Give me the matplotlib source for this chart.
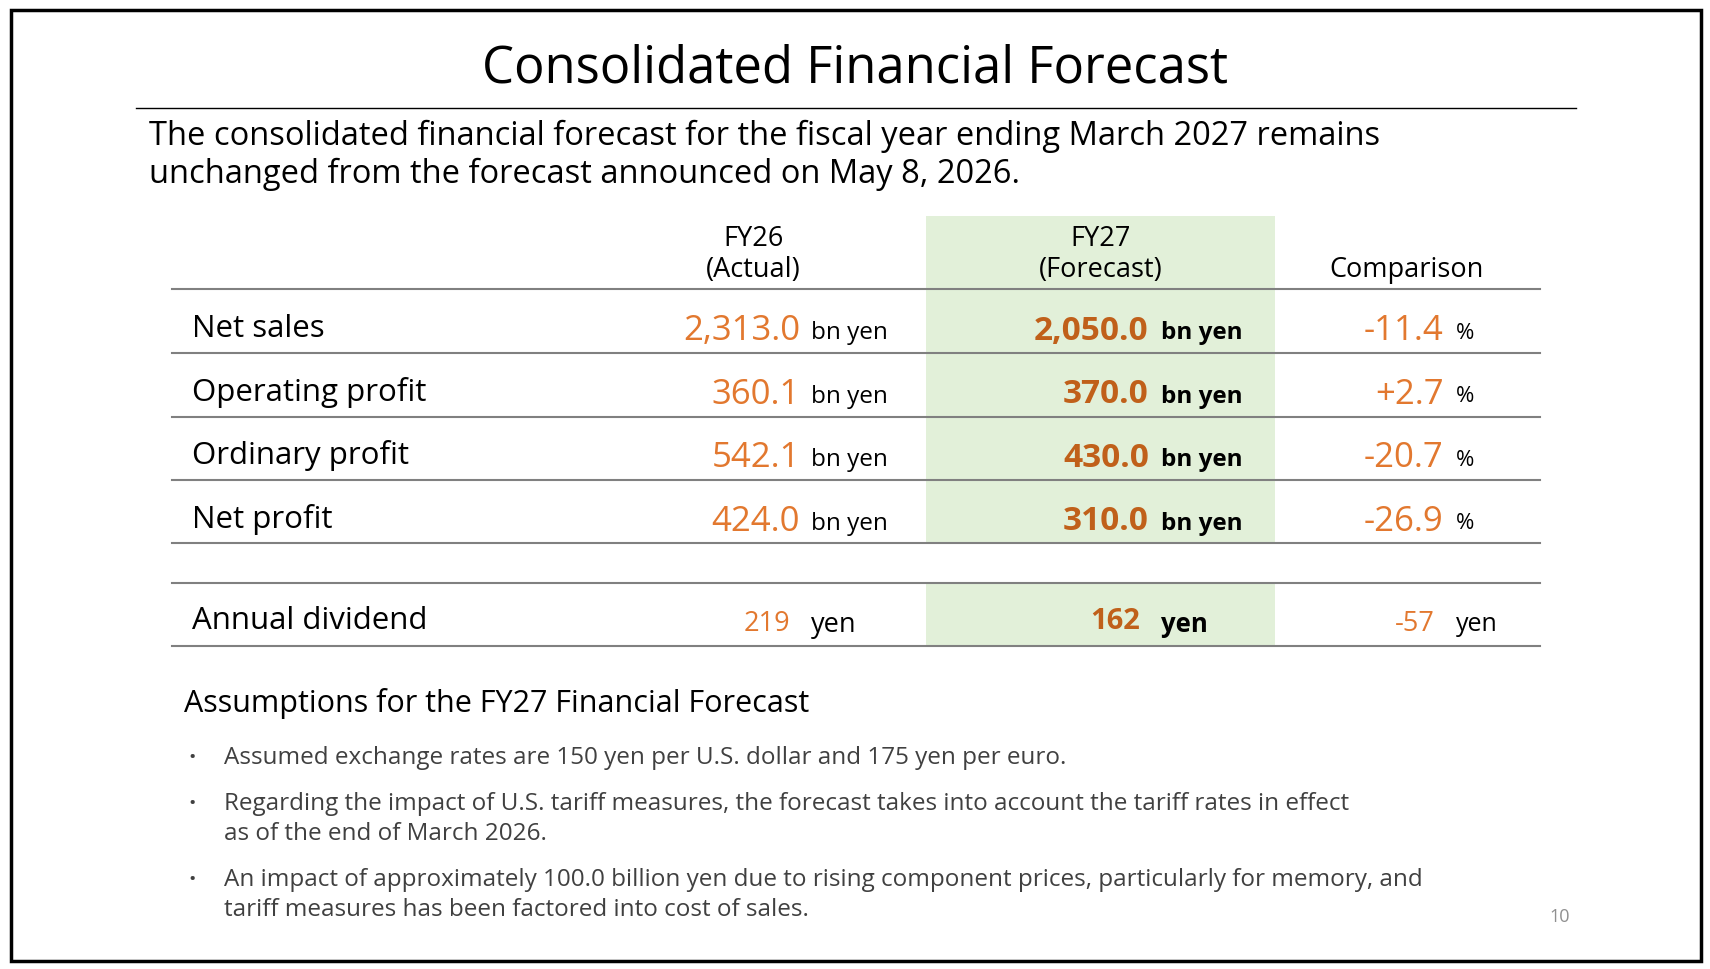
import matplotlib
matplotlib.use("Agg")
import matplotlib.pyplot as plt
from matplotlib.patches import Rectangle
from matplotlib.lines import Line2D

plt.rcParams['font.family'] = ['Open Sans', 'DejaVu Sans']

title = "Consolidated Financial Forecast"
subtitle = ["The consolidated financial forecast for the fiscal year ending March 2027 remains",
            "unchanged from the forecast announced on May 8, 2026."]
rows = ["Net sales", "Operating profit", "Ordinary profit", "Net profit"]
fy26 = ["2,313.0", "360.1", "542.1", "424.0"]
fy27 = ["2,050.0", "370.0", "430.0", "310.0"]
comp = ["-11.4", "+2.7", "-20.7", "-26.9"]
div_label = "Annual dividend"
div_vals = ["219", "162", "-57"]
assump_head = "Assumptions for the FY27 Financial Forecast"
bullets = [["Assumed exchange rates are 150 yen per U.S. dollar and 175 yen per euro."],
           ["Regarding the impact of U.S. tariff measures, the forecast takes into account the tariff rates in effect",
            "as of the end of March 2026."],
           ["An impact of approximately 100.0 billion yen due to rising component prices, particularly for memory, and",
            "tariff measures has been factored into cost of sales."]]

W, H = 1560.0, 885.0
fig = plt.figure(figsize=(17.1, 9.7), dpi=100)
ax = fig.add_axes([0, 0, 1, 1])
ax.set_xlim(0, W); ax.set_ylim(H, 0); ax.axis('off')

ORANGE = '#E2782F'
DARK = '#C0601A'
GREEN = '#E2F0D9'
LINE = '#808080'

def T(x, y, s, **kw):
    kw.setdefault('va', 'center')
    ax.text(x, y, s, **kw)

ax.add_patch(Rectangle((10, 10), 1542, 868, fill=False, lw=2.5, ec='black'))
T(780, 63, title, ha='center', fontsize=36.5)
ax.add_line(Line2D([124, 1438], [99, 99], color='black', lw=1))
for i, s in enumerate(subtitle):
    T(136, 124 + 35 * i, s, fontsize=23.5)

ax.add_patch(Rectangle((845, 198), 318, 297, fc=GREEN, ec='none'))
ax.add_patch(Rectangle((845, 533), 318, 57, fc=GREEN, ec='none'))
for y in [265, 323, 381, 439, 496, 533, 590]:
    ax.add_line(Line2D([157, 1405], [y, y], color=LINE, lw=1.5))

T(687, 218, "FY26", ha='center', fontsize=19.5)
T(687, 246, "(Actual)", ha='center', fontsize=19.5)
T(1004, 218, "FY27", ha='center', fontsize=19.5)
T(1004, 246, "(Forecast)", ha='center', fontsize=19.5)
T(1283, 246, "Comparison", ha='center', fontsize=19.5)

for i, r in enumerate(rows):
    y = 300 + 58 * i
    T(175, y, r, fontsize=22.5)
    T(730, y + 2, fy26[i], ha='right', fontsize=25, color=ORANGE)
    T(740, y + 4, "bn yen", fontsize=17.5)
    T(1048, y + 2, fy27[i], ha='right', fontsize=24, color=DARK, fontweight='bold')
    T(1059, y + 4, "bn yen", fontsize=17.5, fontweight='bold')
    T(1317, y + 2, comp[i], ha='right', fontsize=25, color=ORANGE)
    T(1328, y + 4, "%", fontsize=16)

y = 567
T(175, y, div_label, fontsize=22.5)
T(721, y + 2, div_vals[0], ha='right', fontsize=19.5, color=ORANGE)
T(740, y + 3, "yen", fontsize=19.5)
T(1040, y, div_vals[1], ha='right', fontsize=21, color=DARK, fontweight='bold')
T(1059, y + 3, "yen", fontsize=18.5, fontweight='bold')
T(1309, y + 2, div_vals[2], ha='right', fontsize=19.5, color=ORANGE)
T(1328, y + 3, "yen", fontsize=18)

T(168, 642, assump_head, fontsize=22)
ys = [692, 734, 803]
for b, y0 in zip(bullets, ys):
    T(172, y0, "•", fontsize=14, color='#404040')
    for j, line in enumerate(b):
        T(204, y0 + 27 * j, line, fontsize=17.5, color='#404040')
T(1423, 837, "10", ha='center', fontsize=13, color='#909090')

fig.savefig("out.png", dpi=100)
